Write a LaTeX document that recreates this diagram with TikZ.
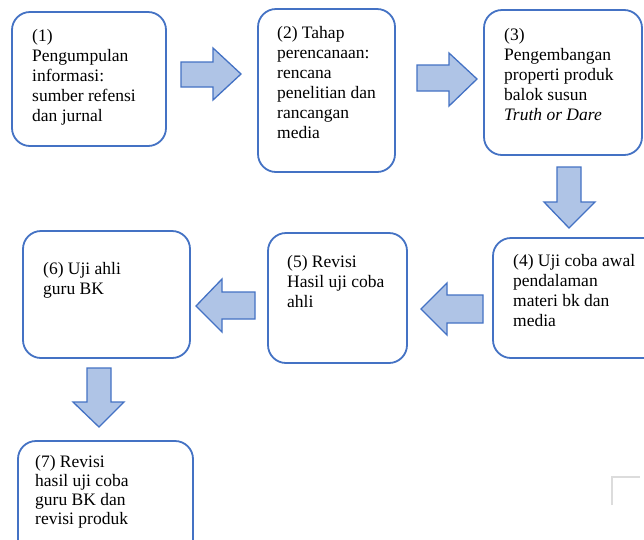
\documentclass[tikz,border=0pt]{standalone}
\usepackage{fontspec}
\setmainfont{Liberation Serif}
\definecolor{boxblue}{HTML}{4472C4}
\definecolor{arrfill}{HTML}{AFC4E6}
\definecolor{markgray}{HTML}{DCDCDC}
\begin{document}
\begin{tikzpicture}[x=1pt,y=-1pt,
  box/.style={draw=boxblue,line width=1.8pt,fill=white,rounded corners=18pt},
  blockarrow/.style={draw=boxblue,line width=1.3pt,fill=arrfill,line join=miter},
  txt/.style={anchor=base west,inner sep=0pt,font=\fontsize{17.5}{20}\selectfont},
]
\useasboundingbox (0,0) rectangle (644,539);
\clip (0,0) rectangle (644,539);
\fill[white] (0,0) rectangle (644,539);

% boxes
\draw[box] (12,12) rectangle (166,146);
\draw[box] (258,9) rectangle (395,172);
\draw[box] (484,10) rectangle (642,155);
\draw[box] (493,238) rectangle (664,358);
\draw[box] (268,233) rectangle (407,363);
\draw[box] (23,231) rectangle (190,358);
\draw[box] (18,441) rectangle (193,560);

% texts
\node[txt] (t1) at (32,41) {\parbox[t]{140pt}{\fontsize{17.5}{20}\selectfont (1)\\Pengumpulan\\informasi:\\sumber refensi\\dan jurnal}};
\node[txt] (t2) at (277,38) {\parbox[t]{140pt}{\fontsize{17.5}{20}\selectfont (2) Tahap\\perencanaan:\\rencana\\penelitian dan\\rancangan\\media}};
\node[txt] (t3) at (504,40) {\parbox[t]{140pt}{\fontsize{17.5}{20}\selectfont (3)\\Pengembangan\\properti produk\\balok susun\\\textit{Truth or Dare}}};
\node[txt] (t4) at (513,266) {\parbox[t]{140pt}{\fontsize{17.5}{20}\selectfont (4) Uji coba awal\\pendalaman\\materi bk dan\\media}};
\node[txt] (t5) at (287,267) {\parbox[t]{140pt}{\fontsize{17.5}{20}\selectfont (5) Revisi\\Hasil uji coba\\ahli}};
\node[txt] (t6) at (43,274) {\parbox[t]{140pt}{\fontsize{17.5}{20}\selectfont (6) Uji ahli\\guru BK}};
\node[txt] (t7) at (35,467) {\parbox[t]{160pt}{\fontsize{17.5}{19.2}\selectfont (7) Revisi\\hasil uji coba\\guru BK dan\\revisi produk}};

% block arrows
\draw[blockarrow] (181,62) -- (213,62) -- (213,48) -- (241,74) -- (213,100) -- (213,87) -- (181,87) -- cycle;
\draw[blockarrow] (417,65) -- (449,65) -- (449,53) -- (477,79) -- (449,106) -- (449,91) -- (417,91) -- cycle;
\draw[blockarrow] (557,167) -- (581,167) -- (581,202) -- (595,202) -- (569,228) -- (544,202) -- (557,202) -- cycle;
\draw[blockarrow] (483,295) -- (447,295) -- (447,283) -- (421,309) -- (447,335) -- (447,323) -- (483,323) -- cycle;
\draw[blockarrow] (255,292) -- (222,292) -- (222,279) -- (196,306) -- (222,332) -- (222,319) -- (255,319) -- cycle;
\draw[blockarrow] (87,368) -- (111,368) -- (111,402) -- (124,402) -- (99,427) -- (73,402) -- (87,402) -- cycle;

% faint corner mark
\draw[markgray,line width=1.8pt] (612,505) -- (612,477) -- (640,477);
\end{tikzpicture}
\end{document}
